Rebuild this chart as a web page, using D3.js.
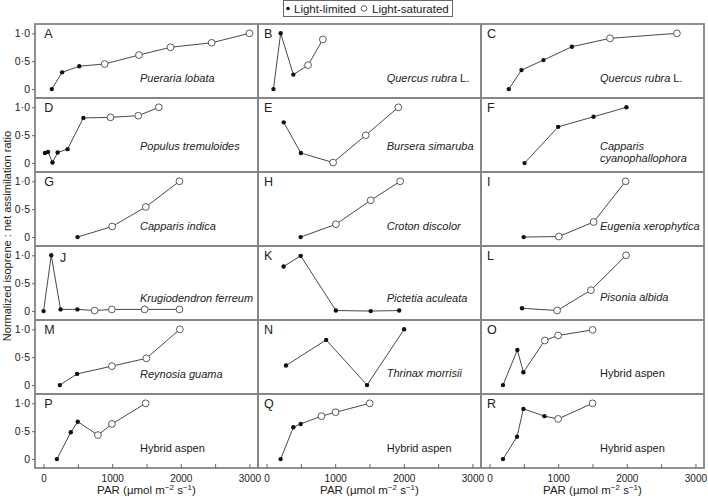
<!DOCTYPE html>
<html>
<head>
<meta charset="utf-8">
<script src="https://cdn.jsdelivr.net/npm/d3@7"></script>
<style>
  html, body { margin: 0; padding: 0; background: #fff; }
  svg { display: block; }
  text { font-family: "Liberation Sans", Arial, Helvetica, sans-serif; fill: #222; }
</style>
</head>
<body>
<svg id="chart" width="708" height="500"></svg>
<script>
// ---------------- DATA ----------------
const panelIds = ["A","B","C","D","E","F","G","H","I","J","K","L","M","N","O","P","Q","R"];
const speciesItalic = ["Pueraria lobata","Quercus rubra","Quercus rubra","Populus tremuloides","Bursera simaruba",
  "Capparis\ncyanophallophora","Capparis indica","Croton discolor","Eugenia xerophytica","Krugiodendron ferreum",
  "Pictetia aculeata","Pisonia albida","Reynosia guama","Thrinax morrisii","","","",""];
const speciesSuffix = ["", " L.", " L.", "", "", "", "", "", "", "", "", "", "", "", "Hybrid aspen","Hybrid aspen","Hybrid aspen","Hybrid aspen"];
// PAR (µmol m-2 s-1) per panel
const par = [
  [120, 270, 520, 890, 1390, 1850, 2450, 3000],
  [100, 205, 390, 605, 820],
  [280, 465, 785, 1200, 1755, 2730],
  [20, 65, 130, 205, 350, 580, 975, 1380, 1680],
  [250, 500, 970, 1445, 1920],
  [510, 1000, 1515, 1995],
  [495, 1000, 1490, 1980],
  [497, 1010, 1518, 1947],
  [497, 1009, 1516, 1983],
  [0, 112, 247, 493, 744, 995, 1473, 1981],
  [248, 497, 1010, 1518, 1932],
  [473, 985, 1477, 1989],
  [237, 488, 996, 1498, 1986],
  [283, 868, 1464, 2005],
  [195, 405, 493, 804, 999, 1501],
  [194, 397, 498, 793, 996, 1488],
  [205, 390, 497, 800, 1005, 1503],
  [195, 400, 493, 800, 999, 1501]
];
// Normalized isoprene : net assimilation ratio per panel
const ratio = [
  [0, 0.30, 0.41, 0.45, 0.61, 0.75, 0.83, 1.0],
  [0, 1.0, 0.26, 0.43, 0.89],
  [0, 0.34, 0.52, 0.76, 0.91, 1.0],
  [0.18, 0.20, 0.01, 0.19, 0.25, 0.81, 0.82, 0.85, 1.0],
  [0.73, 0.18, 0.01, 0.50, 1.0],
  [0, 0.65, 0.83, 1.0],
  [0, 0.19, 0.54, 1.0],
  [0, 0.23, 0.66, 1.0],
  [0, 0.01, 0.27, 1.0],
  [0, 1.0, 0.03, 0.03, 0.01, 0.03, 0.03, 0.03],
  [0.80, 0.99, 0.01, 0, 0.01],
  [0.05, 0.01, 0.375, 1.0],
  [0, 0.20, 0.34, 0.48, 1.0],
  [0.35, 0.81, 0, 1.0],
  [0, 0.63, 0.23, 0.80, 0.89, 0.99],
  [0, 0.48, 0.67, 0.43, 0.63, 1.0],
  [0, 0.57, 0.63, 0.77, 0.84, 1.0],
  [0, 0.40, 0.90, 0.77, 0.72, 1.0]
];
// number of leading light-limited points in each panel (rest are light-saturated)
const nLimited = [3, 3, 4, 6, 2, 4, 1, 1, 1, 4, 5, 1, 2, 4, 3, 3, 3, 4];
const xTickValues = [0, 500, 1000, 1500, 2000, 2500, 3000];
const xTickLabels = ["0", "", "1000", "", "2000", "", "3000"];
const yTickValues = [0, 0.5, 1];
const yTickLabels = ["0", "0·5", "1·0"];
const legendLabels = ["Light-limited", "Light-saturated"];

// ---------------- LAYOUT ----------------
const svg = d3.select("#chart");
const colLeft = [35, 258, 481];
const colW = 223;
const rowTop0 = 24, rowH = 74;
const xDomain = [-125, 3125];
const yDomain = [-0.16, 1.167];
const speciesDx = [105, 128.7, 119];
const speciesDy = [57.5,57.5,57.5, 51.7,51.7,51.7, 57.5,57.5,57.5, 55.7,55.7,55.3, 57.5,57,57, 57.7,57.7,57.7];
const letterDx = [9.3, 6, 6];

const line = (xs, ys) => d3.line().x(d => xs(d[0])).y(d => ys(d[1]));

panelIds.forEach((id, i) => {
  const col = i % 3, row = Math.floor(i / 3);
  const x0 = colLeft[col], y0 = rowTop0 + row * rowH;
  const xs = d3.scaleLinear().domain(xDomain).range([x0, x0 + colW]);
  const ys = d3.scaleLinear().domain(yDomain).range([y0 + rowH, y0]);
  const g = svg.append("g");

  // frame
  g.append("rect").attr("x", x0).attr("y", y0).attr("width", colW).attr("height", rowH)
    .attr("fill", "none").attr("stroke", "#858585").attr("stroke-width", 1.8);

  // y axis for first column
  if (col === 0) {
    const ay = g.append("g").attr("transform", `translate(${x0},0)`)
      .call(d3.axisLeft(ys).tickValues(yTickValues).tickSize(3).tickPadding(2)
        .tickFormat((d, k) => yTickLabels[k]));
    ay.select(".domain").remove();
    ay.selectAll(".tick line").attr("stroke", "#666");
    ay.selectAll(".tick text").attr("font-size", 10.5).attr("fill", "#222")
      .style("font-family", "'Liberation Sans', Arial, sans-serif");
  }
  // x axis for bottom row
  if (row === 5) {
    const ax = g.append("g").attr("transform", `translate(0,${y0 + rowH})`)
      .call(d3.axisBottom(xs).tickValues(xTickValues).tickSize(-4).tickPadding(7)
        .tickFormat((d, k) => xTickLabels[k]));
    ax.select(".domain").remove();
    ax.selectAll(".tick line").attr("stroke", "#666");
    ax.selectAll(".tick text").attr("font-size", 10).attr("fill", "#222")
      .style("font-family", "'Liberation Sans', Arial, sans-serif");
  }

  // panel letter
  const isJ = id === "J";
  g.append("text").attr("x", isJ ? x0 + 25 : x0 + letterDx[col])
    .attr("y", y0 + (isJ ? 15.7 : 14.3)).attr("font-size", 12.5).text(id);

  // species label
  const lines = speciesItalic[i].split("\n");
  const t = g.append("text").attr("x", x0 + speciesDx[col]).attr("y", y0 + speciesDy[i]).attr("font-size", 11);
  if (lines.length > 1) {
    lines.forEach((ln, k) => {
      t.append("tspan").attr("x", x0 + speciesDx[col]).attr("dy", k === 0 ? 0 : 12.5)
        .attr("font-style", "italic").text(ln);
    });
  } else {
    if (lines[0]) t.append("tspan").attr("font-style", "italic").text(lines[0]);
    if (speciesSuffix[i]) t.append("tspan").text(speciesSuffix[i]);
  }

  // data
  const pts = par[i].map((p, k) => [p, ratio[i][k], k < nLimited[i]]);
  g.append("path").datum(pts).attr("d", line(xs, ys)).attr("fill", "none")
    .attr("stroke", "#333").attr("stroke-width", 0.9);
  g.selectAll("circle.pt").data(pts).enter().append("circle")
    .attr("cx", d => xs(d[0])).attr("cy", d => ys(d[1]))
    .attr("r", d => d[2] ? 2.2 : 3.4)
    .attr("fill", d => d[2] ? "#111" : "#fff")
    .attr("stroke", d => d[2] ? "none" : "#333").attr("stroke-width", 0.8);
});

// x axis titles
colLeft.forEach(x0 => {
  const t = svg.append("text").attr("x", x0 + colW / 2).attr("y", 494)
    .attr("text-anchor", "middle").attr("font-size", 11.5);
  t.append("tspan").text("PAR (µmol m");
  t.append("tspan").attr("dy", -4).attr("font-size", 8).text("−2");
  t.append("tspan").attr("dy", 4).text(" s");
  t.append("tspan").attr("dy", -4).attr("font-size", 8).text("−1");
  t.append("tspan").attr("dy", 4).text(")");
});

// y axis title
svg.append("text").attr("transform", "translate(11,236) rotate(-90)")
  .attr("text-anchor", "middle").attr("font-size", 11)
  .text("Normalized isoprene : net assimilation ratio");

// legend
const lg = svg.append("g");
lg.append("rect").attr("x", 283.5).attr("y", 0.5).attr("width", 169).attr("height", 16)
  .attr("fill", "#fff").attr("stroke", "#666").attr("stroke-width", 1);
lg.append("circle").attr("cx", 288).attr("cy", 8.5).attr("r", 1.8).attr("fill", "#111");
lg.append("text").attr("x", 294).attr("y", 12.5).attr("font-size", 11.5).text(legendLabels[0]);
lg.append("circle").attr("cx", 364).attr("cy", 8.5).attr("r", 2.8).attr("fill", "#fff")
  .attr("stroke", "#333").attr("stroke-width", 0.8);
lg.append("text").attr("x", 372).attr("y", 12.5).attr("font-size", 11.5).text(legendLabels[1]);
</script>
</body>
</html>
